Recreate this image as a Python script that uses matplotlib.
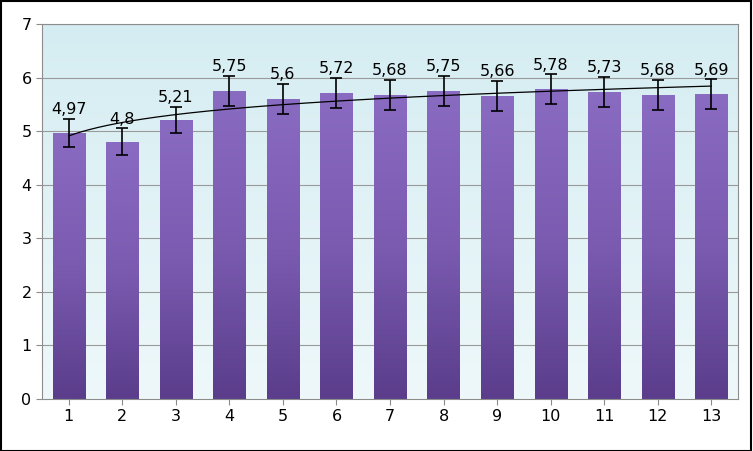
import numpy as np
import matplotlib
matplotlib.use("Agg")
import matplotlib.pyplot as plt
from matplotlib.colors import LinearSegmentedColormap

categories = [str(i) for i in range(1, 14)]
values = [4.97, 4.8, 5.21, 5.75, 5.6, 5.72, 5.68, 5.75, 5.66, 5.78, 5.73, 5.68, 5.69]
errors = [0.26, 0.25, 0.25, 0.28, 0.28, 0.28, 0.28, 0.28, 0.28, 0.28, 0.28, 0.28, 0.28]
labels = ["4,97", "4,8", "5,21", "5,75", "5,6", "5,72", "5,68", "5,75", "5,66", "5,78", "5,73", "5,68", "5,69"]

fig = plt.figure(figsize=(7.53, 4.51), dpi=100)
ax = fig.add_axes([42/753, 52/451, 696/753, 375/451])
x = np.arange(1, 14)
ax.set_xlim(0.5, 13.5)
ax.set_ylim(0, 7)

bgcmap = LinearSegmentedColormap.from_list("bg", ["#eef8fa", "#d5edf2"])
ax.imshow(np.linspace(0, 1, 100).reshape(-1, 1), extent=[0.5, 13.5, 0, 7], origin="lower",
          cmap=bgcmap, aspect="auto", zorder=0)
for g in range(1, 8):
    ax.axhline(g, color="#9a9a9a", lw=0.8, zorder=1)

barcmap = LinearSegmentedColormap.from_list("bar", ["#5b3d8c", "#7a5bb0", "#8a6bc2"])
bars = ax.bar(x, values, width=0.6, color="none", zorder=2)
for b in bars:
    x0, w, h = b.get_x(), b.get_width(), b.get_height()
    im = ax.imshow(np.linspace(0, 1, 100).reshape(-1, 1), extent=[x0, x0 + w, 0, h], origin="lower",
                   cmap=barcmap, aspect="auto", zorder=2)
    im.set_clip_path(b)
ax.errorbar(x, values, yerr=errors, fmt="none", ecolor="black", elinewidth=1.2, capsize=4, capthick=1.2, zorder=4)

coef = np.polyfit(np.log(x), values, 1)
xs = np.linspace(1, 13, 200)
ax.plot(xs, coef[0] * np.log(xs) + coef[1], color="black", lw=0.9, zorder=3)

for xi, v, e, lab in zip(x, values, errors, labels):
    ax.text(xi, v + e + 0.03, lab, ha="center", va="bottom", fontsize=11.5, zorder=5)

ax.set_xticks(x)
ax.set_xticklabels(categories)
ax.set_yticks(range(0, 8))
ax.tick_params(labelsize=11.5, length=4, color="#8c8c8c")
for s in ax.spines.values():
    s.set_color("#8c8c8c")
ax.set_xlim(0.5, 13.5)
ax.set_ylim(0, 7)

fig.patches.append(plt.Rectangle((0.001, 0.001), 0.997, 0.997, transform=fig.transFigure,
                                 fill=False, edgecolor="black", lw=1.5))
fig.savefig("out.png", dpi=100)
